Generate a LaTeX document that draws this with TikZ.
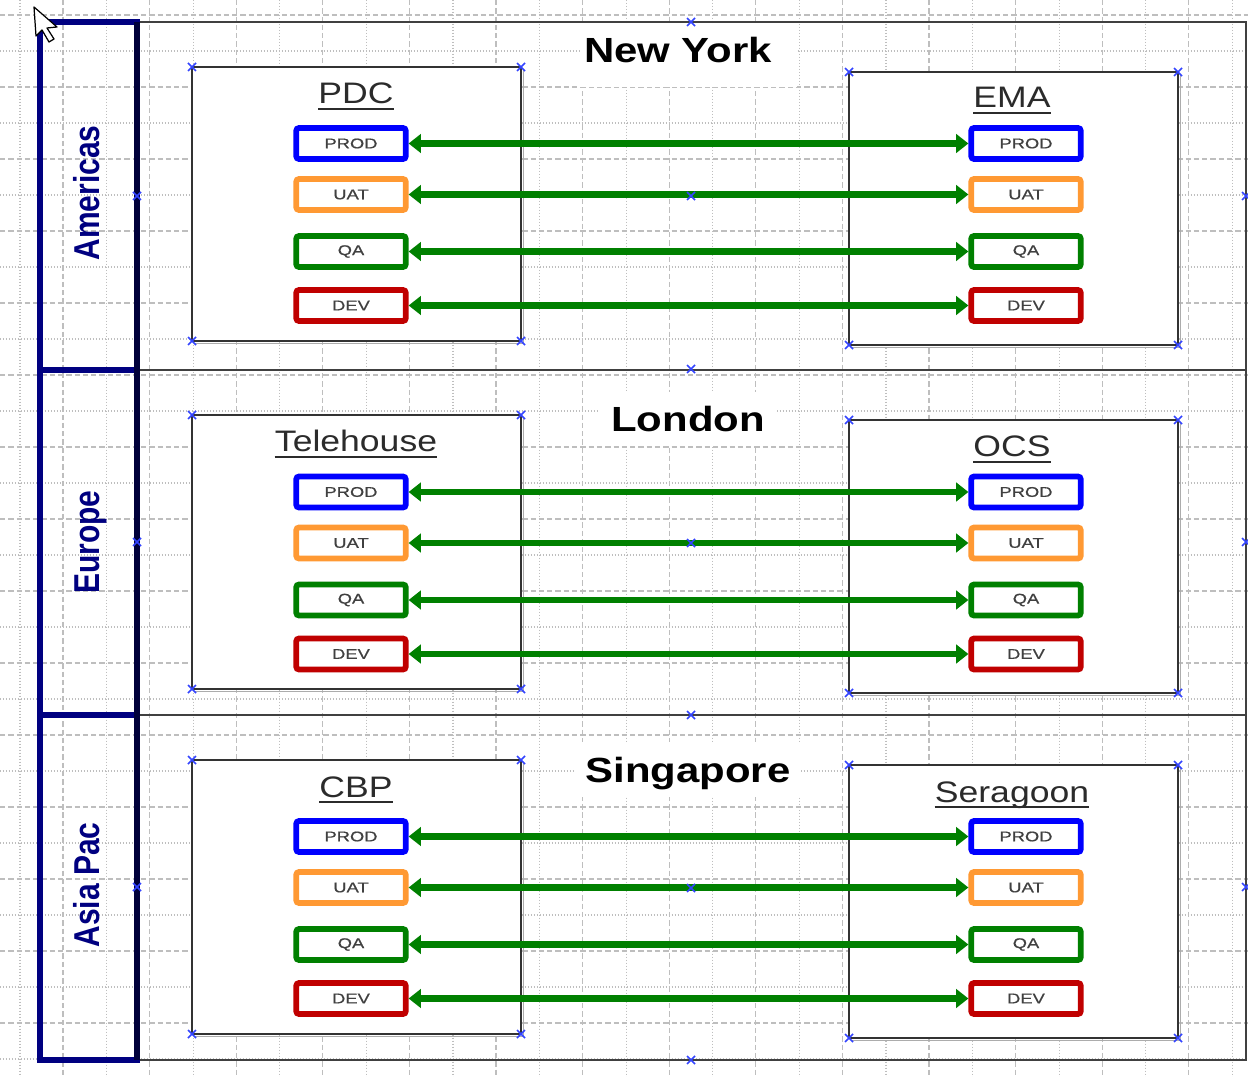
\documentclass[tikz,border=0pt]{standalone}
\usepackage{fontspec}
\usepackage{graphicx}
\setmainfont{Liberation Sans}
\newfontfamily\titlefont[FakeStretch=1.2]{Liberation Sans}
\newfontfamily\envfont[FakeStretch=1.3, FakeBold=0.6]{Liberation Sans}
\usetikzlibrary{arrows.meta}
\definecolor{navyc}{HTML}{000080}
\definecolor{prodc}{HTML}{0000FF}
\definecolor{uatc}{HTML}{FF9933}
\definecolor{qac}{HTML}{008000}
\definecolor{devc}{HTML}{C00000}
\definecolor{arrc}{HTML}{008000}
\definecolor{gridc}{HTML}{BEBEBE}
\definecolor{markc}{HTML}{3344FF}
\definecolor{txtc}{HTML}{2B2B2B}
\definecolor{envtxt}{HTML}{404040}
\tikzset{
  griddash/.style={gridc, line width=0.6pt, dash pattern=on 3pt off 1.7pt},
  griddot/.style={gridc, line width=0.6pt, dash pattern=on 0.6pt off 1.1pt},
  laneline/.style={black!75, line width=1.3pt},
  headcell/.style={navyc, line width=3.4pt},
  sitebox/.style={fill=white, draw=black!80, line width=1.2pt},
  siteshadow/.style={gray!65, line width=1pt},
  envbox/.style={rectangle, rounded corners=1.5pt, line width=3.3pt, fill=white,
    minimum width=62pt, minimum height=17.5pt, inner sep=0pt,
    font=\envfont\fontsize{8pt}{9pt}\selectfont, text=envtxt},
  linkarrow/.style={draw=arrc, line width=3.8pt,
    {Triangle[length=7pt,width=10.5pt]}-{Triangle[length=7pt,width=10.5pt]}},
  lanetitle/.style={anchor=base, inner sep=0pt, font=\titlefont\bfseries\fontsize{19.8pt}{22pt}\selectfont, text=black},
  laneback/.style={fill=white, draw=none},
  sitetitle/.style={anchor=base, inner sep=0pt, font=\titlefont\fontsize{16.8pt}{19pt}\selectfont, text=txtc},
  ulstyle/.style={txtc, line width=1.1pt},
  lanelabel/.style={rotate=90, anchor=base, inner sep=0pt, font=\bfseries\fontsize{17pt}{20pt}\selectfont, text=navyc},
  mkstyle/.style={markc, line width=0.9pt},
}
\begin{document}
\begin{tikzpicture}[x=0.5669pt, y=-0.5669pt]
\useasboundingbox (0,0) rectangle (1248,1077);
\fill[white] (0,0) rectangle (1248,1077);
% grid
\foreach \i in {0,...,14} {
  \draw[griddot] ({20+86.6*\i},0) -- ({20+86.6*\i},1077);
  \draw[griddash] ({63+86.6*\i},0) -- ({63+86.6*\i},1077);
}
\foreach \j in {0,...,14} {
  \draw[griddash] (0,{15+72*\j}) -- (1248,{15+72*\j});
  \draw[griddot] (0,{51+72*\j}) -- (1248,{51+72*\j});
}
% lanes
\draw[laneline] (137,22) rectangle (1246,370);
\draw[laneline] (137,370) rectangle (1246,715);
\draw[laneline] (137,715) rectangle (1246,1060);
\draw[headcell] (40,22) rectangle (137,370);
\draw[headcell] (40,370) rectangle (137,715);
\draw[headcell] (40,715) rectangle (137,1060);
\draw[navyc!45!black, line width=3.4pt] (137,22) -- (137,1060);
% lane labels
\node[lanelabel] (hAm) at (99,193) {\scalebox{1}[1.2]{Americas}};
\node[lanelabel] (hEu) at (99,542) {\scalebox{1}[1.2]{Europe}};
\node[lanelabel] (hAs) at (99,885) {\scalebox{1}[1.2]{Asia Pac}};
% site boxes
\foreach \xa/\ya/\xb/\yb in {192/67/521/341, 849/72/1178/345, 192/415/521/689, 849/420/1178/693, 192/760/521/1034, 849/765/1178/1038} {
  \draw[siteshadow] ({\xb+2.5},{\ya+3}) -- ({\xb+2.5},{\yb+2.5}) -- ({\xa+3},{\yb+2.5});
  \draw[sitebox] (\xa,\ya) rectangle (\xb,\yb);
}
% lane titles
\fill[laneback] (580,24) rectangle (797,87);
\node[lanetitle] (tNY) at (678,63) {New York};
\fill[laneback] (600,392) rectangle (777,445);
\node[lanetitle] (tLon) at (688,432) {London};
\fill[laneback] (575,742) rectangle (801,797);
\node[lanetitle] (tSin) at (688,782) {Singapore};
% site titles
\foreach \nm/\tx/\px/\py in {sPDC/PDC/356/104, sEMA/EMA/1012/108, sTel/Telehouse/356/452, sOCS/OCS/1012/457, sCBP/CBP/356/797, sSer/Seragoon/1012/802} {
  \node[sitetitle] (\nm) at (\px,\py) {\tx};
  \draw[ulstyle] ([yshift=-2.6pt]\nm.base west) -- ([yshift=-2.6pt]\nm.base east);
}
% environment boxes and links
\foreach \ln/\dy in {a/0, b/348.5, c/693} {
  \foreach \en/\ey/\ec in {PROD/143.5/prodc, UAT/194.5/uatc, QA/251.5/qac, DEV/305.5/devc} {
    \node[envbox, draw=\ec] (L\ln\en) at (351,{\ey+\dy}) {\en};
    \node[envbox, draw=\ec] (R\ln\en) at (1026,{\ey+\dy}) {\en};
    \draw[linkarrow] (L\ln\en) -- (R\ln\en);
  }
}
% selection handles
\foreach \p in {(192,67),(521,67),(192,341),(521,341),(849,72),(1178,72),(849,345),(1178,345),
  (192,415),(521,415),(192,689),(521,689),(849,420),(1178,420),(849,693),(1178,693),
  (192,760),(521,760),(192,1034),(521,1034),(849,765),(1178,765),(849,1038),(1178,1038),
  (691,22),(691,369),(691,715),(691,1060),(137,196),(137,542),(137,887),(1246,196),(1246,542),(1246,887),
  (691,196),(691,543),(691,888)} {
  \draw[mkstyle] \p +(-4,-4) -- +(4,4) \p +(-4,4) -- +(4,-4);
}
% cursor
\draw[fill=white, draw=black, line width=0.7pt, line join=round]
  (34,7) -- (36,36) -- (42,30) -- (49,42) -- (54,39) -- (47,28) -- (57,27) -- cycle;
\end{tikzpicture}
\end{document}
